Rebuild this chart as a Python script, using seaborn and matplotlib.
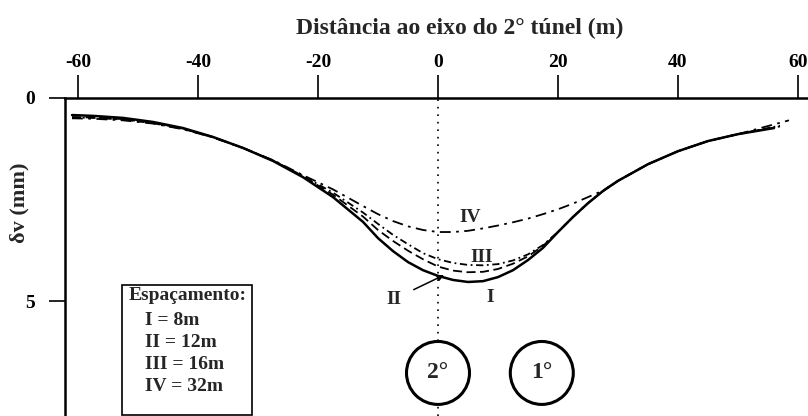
import numpy as np
import pandas as pd
import matplotlib
matplotlib.use("Agg")
import matplotlib.pyplot as plt
from matplotlib.patches import Ellipse, Rectangle
import seaborn as sns

# Horizontal distance to the axis of the 2nd tunnel (m)
dist = [-61, -57.5, -52.5, -47.5, -42.5, -37.5, -32.5, -27.5, -22.5, -17.5, -12.5, -10,
        -7.5, -5, -2.5, 0, 2.5, 5, 7.5, 10, 12.5, 15, 17.5, 20, 22.5, 25, 27.5, 30,
        35, 40, 45, 50]

# Surface settlement (mm) for each tunnel spacing
settl_I = [0.42, 0.44, 0.49, 0.59, 0.74, 0.96, 1.23, 1.55, 1.95, 2.44, 3.05, 3.45,
           3.77, 4.04, 4.24, 4.38, 4.48, 4.53, 4.51, 4.41, 4.24, 3.99, 3.69, 3.30,
           2.93, 2.59, 2.29, 2.04, 1.63, 1.31, 1.06, 0.89]
settl_II = [0.47, 0.48, 0.52, 0.61, 0.75, 0.96, 1.23, 1.54, 1.93, 2.38, 2.92, 3.25,
            3.52, 3.76, 3.97, 4.15, 4.25, 4.29, 4.28, 4.21, 4.08, 3.90, 3.64, 3.30,
            2.93, 2.59, 2.29, 2.04, 1.63, 1.31, 1.06, 0.89]
settl_III = [0.48, 0.49, 0.53, 0.62, 0.76, 0.97, 1.23, 1.54, 1.92, 2.33, 2.82, 3.10,
             3.37, 3.60, 3.82, 3.97, 4.06, 4.11, 4.12, 4.09, 4.00, 3.85, 3.62, 3.30,
             2.93, 2.59, 2.29, 2.04, 1.63, 1.31, 1.06, 0.89]
settl_IV = [0.50, 0.51, 0.55, 0.63, 0.77, 0.97, 1.23, 1.53, 1.90, 2.25, 2.66, 2.86,
            3.03, 3.16, 3.25, 3.30, 3.30, 3.27, 3.21, 3.14, 3.06, 2.97, 2.86, 2.74,
            2.60, 2.44, 2.28, 2.04, 1.63, 1.31, 1.06, 0.89]

# right-hand tails of the curves
tail_x = {"I": [56.0], "II": [57.0], "III": [57.0], "IV": [58.5]}
tail_y = {"I": [0.74], "II": [0.70], "III": [0.68], "IV": [0.55]}

x_ticks = [-60, -40, -20, 0, 20, 40, 60]
y_ticks = [0, 5]
legend_lines = ["I = 8m", "II = 12m", "III = 16m", "IV = 32m"]
tunnels = {"2°": 0.0, "1°": 17.3}

sns.set_style("white")
plt.rcParams["font.family"] = ["Liberation Serif", "DejaVu Serif"]
plt.rcParams["font.weight"] = "bold"

fig = plt.figure(figsize=(8.08, 4.16), dpi=100)
ax = fig.add_axes([65 / 808, 0.0, 1 - 65 / 808, 1 - 98 / 416])

curves = [
    ("I", settl_I, "-", 1.8),
    ("II", settl_II, (0, (5, 2.5)), 1.3),
    ("III", settl_III, (0, (4, 2, 1, 2)), 1.3),
    ("IV", settl_IV, (0, (6, 3, 1.5, 3)), 1.3),
]
for name, ys, ls, lw in curves:
    df = pd.DataFrame({"x": dist + tail_x[name], "y": ys + tail_y[name]})
    sns.lineplot(data=df, x="x", y="y", ax=ax, color="black", linestyle=ls,
                 linewidth=lw, sort=True, legend=False)

ax.set_xlim(-62.17, 61.67)
ax.set_ylim(7.83, 0)

# axis through the 2nd tunnel
ax.axvline(0, color="black", linestyle=(0, (1, 3.5)), linewidth=1.2, zorder=1)

# tunnels
for name, xc in tunnels.items():
    ax.add_patch(Ellipse((xc, 6.77), width=10.5, height=1.55, facecolor="white",
                         edgecolor="black", linewidth=2.2, zorder=5))
    ax.text(xc, 6.77, name, ha="center", va="center", fontsize=17,
            fontweight="bold", zorder=6)

# curve labels
ax.text(5.3, 2.94, "IV", ha="center", va="center", fontsize=14, fontweight="bold")
ax.text(7.3, 3.92, "III", ha="center", va="center", fontsize=14, fontweight="bold")
ax.text(8.7, 4.92, "I", ha="center", va="center", fontsize=14, fontweight="bold")
ax.annotate("II", xy=(1.0, 4.36), xytext=(-7.3, 4.95), ha="center", va="center",
            fontsize=14, fontweight="bold",
            arrowprops=dict(arrowstyle="-|>", color="black", lw=1.1,
                            mutation_scale=9, shrinkA=7, shrinkB=0,
                            facecolor="white"))

# spacing legend box
ax.add_patch(Rectangle((-52.7, 7.8), 21.7, -3.2, facecolor="white",
                       edgecolor="black", linewidth=1.2, zorder=4))
ax.text(-41.8, 4.87, "Espaçamento:", ha="center", va="center", fontsize=14,
        fontweight="bold", zorder=6)
for i, txt in enumerate(legend_lines):
    ax.text(-48.8, 5.48 + i * 0.545, txt, ha="left", va="center", fontsize=14,
            fontweight="bold", zorder=6)

# axes styling
for side in ["right", "bottom"]:
    ax.spines[side].set_visible(False)
for side in ["top", "left"]:
    ax.spines[side].set_linewidth(1.8)
    ax.spines[side].set_color("black")

ax.xaxis.tick_top()
ax.set_xticks(x_ticks)
ax.set_xticklabels([str(v) for v in x_ticks])
ax.tick_params(axis="x", top=True, bottom=False, direction="out", length=16.5,
               width=1.2, pad=3, labelsize=14, colors="black")
ax.set_yticks(y_ticks)
ax.set_yticklabels([str(v) for v in y_ticks])
ax.tick_params(axis="y", left=True, direction="out", length=11.5, width=1.2,
               pad=10, labelsize=14, colors="black")
for lbl in ax.get_xticklabels() + ax.get_yticklabels():
    lbl.set_fontweight("bold")
ax.set_xlabel("")
ax.set_ylabel("")

fig.text(460 / 808, 1 - 28 / 416, "Distância ao eixo do 2° túnel (m)",
         ha="center", va="center", fontsize=17, fontweight="bold")
fig.text(19 / 808, 1 - 203 / 416, "δv (mm)", ha="center", va="center",
         rotation=90, fontsize=16, fontweight="bold")

fig.savefig("out.png", dpi=100, facecolor="white")
